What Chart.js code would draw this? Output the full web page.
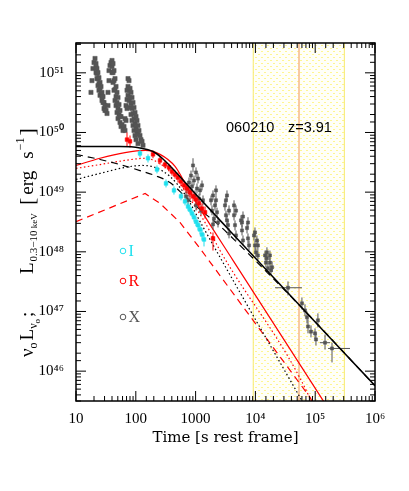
<!DOCTYPE html>
<html>
<head>
<meta charset="utf-8">
<script src="https://cdn.jsdelivr.net/npm/chart.js@4.4.1/dist/chart.umd.min.js"></script>
<style>
  html, body { margin: 0; padding: 0; background: #fff; }
</style>
</head>
<body>
<canvas id="lightCurve" width="409" height="491"></canvas>
<script>
// axis ranges and tick labels
const xRange = [10, 1e6];
const yRange = [3.16e45, 3.16e51];
const xTickValues = [10, 100, 1000, 1e4, 1e5, 1e6];
const xTickLabels = ['10', '100', '1000', '10⁴', '10⁵', '10⁶'];
const yTickValues = [1e46, 1e47, 1e48, 1e49, 1e50, 1e51];
const yTickLabels = ['10⁴⁶', '10⁴⁷', '10⁴⁸', '10⁴⁹', '10⁵⁰', '10⁵¹'];

// shaded time window and its marker
const bandRange = [9.2e3, 3.07e5];
const bandMark = 5.36e4;

// X-ray prompt flares [t, L]
const xrayFlares = [
  [17.8,4.7e50],[18.5,7.4e50],[19.2,1.18e51],[20.0,1.49e51],[20.8,1.74e51],
  [21.6,1.43e51],[21.6,1.23e51],[21.6,1.01e51],[22.4,1.18e51],[22.4,9.7e50],[22.4,8.0e50],
  [23.3,1.01e51],[23.3,8.0e50],[23.3,6.1e50],[24.2,8.3e50],[24.2,6.6e50],[24.2,5.1e50],
  [25.2,6.9e50],[25.2,5.5e50],[25.2,4.2e50],[26.2,5.9e50],[26.2,4.5e50],
  [27.2,4.7e50],[27.2,4.0e50],[27.2,3.44e50],[28.3,4.0e50],[28.3,3.18e50],
  [29.4,3.18e50],[29.4,2.52e50],[30.5,2.83e50],[30.5,2.34e50],[31.8,2.34e50],[33.0,2.08e50],
  [34.3,2.83e50],[34.3,4.7e50],[35.6,7.4e50],[35.6,1.09e51],[37.0,1.33e51],[38.5,1.49e51],
  [40.0,1.61e51],[40.0,1.28e51],[40.0,1.01e51],[41.6,1.43e51],[41.6,1.01e51],[41.6,6.9e50],
  [43.2,1.09e51],[43.2,7.4e50],[43.2,5.1e50],[44.9,8.0e50],[44.9,5.25e50],[44.9,3.44e50],
  [46.7,5.9e50],[46.7,4.0e50],[46.7,2.83e50],[48.5,4.7e50],[48.5,3.18e50],[48.5,2.16e50],
  [50.4,3.86e50],[50.4,2.52e50],[50.4,1.71e50],[52.4,2.94e50],[52.4,2.0e50],
  [54.4,2.34e50],[54.4,1.85e50],[54.4,1.47e50],[56.6,1.85e50],[56.6,1.26e50],
  [58.8,1.36e50],[61.1,1.08e50],[63.5,1.26e50],
  [66.0,1.71e50],[66.0,1.08e50],[68.6,2.83e50],[68.6,1.59e50],
  [71.3,5.1e50],[71.3,3.57e50],[71.3,2.52e50],[74.1,8.0e50],[74.1,5.9e50],[74.1,4.2e50],
  [77.0,7.4e50],[77.0,5.1e50],[77.0,3.44e50],[80.0,5.5e50],[80.0,3.86e50],[80.0,2.62e50],
  [83.1,4.7e50],[83.1,3.06e50],[83.1,2.0e50],[86.4,3.86e50],[86.4,2.52e50],[86.4,1.59e50],
  [89.8,3.18e50],[89.8,2.08e50],[89.8,1.31e50],[93.3,2.62e50],[93.3,1.71e50],[93.3,1.08e50],
  [97.0,2.16e50],[97.0,1.42e50],[97.0,8.9e49],[100.8,1.85e50],[100.8,1.21e50],[100.8,7.6e49],
  [104.7,1.59e50],[104.7,1.04e50],[108.8,1.31e50],[108.8,9.25e49],[108.8,6.5e49],
  [113,1.08e50],[117.5,8.9e49],[122,7.6e49],[127,7.1e49],[132,6.1e49]
];

// X-ray later data [t, L, Llow, Lhigh]
const xrayPoints = [
  [690,8.5e48,7.0e48,1.03e49],[718,1.15e49,9.5e48,1.4e49],[747,7.3e48,6.0e48,8.8e48],
  [776,1.45e49,1.2e49,1.76e49],[806,9.9e48,8.1e48,1.2e49],[838,1.9e49,1.57e49,2.3e49],
  [871,1.25e49,1.03e49,1.51e49],[905,2.8e49,2.14e49,3.7e49],[940,1.57e49,1.3e49,1.9e49],
  [977,8.8e48,7.3e48,1.07e49],[1016,2.14e49,1.76e49,2.6e49],[1016,6.0e48,4.9e48,7.3e48],
  [1055,1.15e49,9.5e48,1.4e49],[1097,1.69e49,1.4e49,2.06e49],[1140,7.8e48,6.5e48,9.5e48],
  [1185,1.07e49,8.8e48,1.3e49],[1231,4.9e48,4.1e48,6.0e48],[1280,1.3e49,1.07e49,1.57e49],
  [1330,7.3e48,6.0e48,8.8e48],[1810,7.3e48,6.0e48,8.8e48],[1880,4.9e48,4.1e48,6.0e48],
  [1954,8.8e48,7.3e48,1.07e49],[1954,2.88e48,2.37e48,3.5e48],[2030,3.6e48,3.0e48,4.4e48],
  [2110,6.0e48,4.9e48,7.3e48],[2193,1.07e49,8.8e48,1.3e49],[2193,7.3e48,6.0e48,8.8e48],
  [2280,4.6e48,3.8e48,5.5e48],[2370,3.1e48,2.56e48,3.8e48],[3100,6.0e48,4.9e48,7.3e48],
  [3220,4.1e48,3.36e48,4.9e48],[3220,7.3e48,6.0e48,8.8e48],[3350,8.8e48,7.3e48,1.07e49],
  [3350,3.36e48,2.8e48,4.1e48],[3480,2.8e48,2.28e48,3.36e48],[3620,4.9e48,4.1e48,6.0e48],
  [3620,2.03e48,1.68e48,2.5e48],[4390,4.1e48,3.36e48,4.9e48],[4390,6.0e48,4.9e48,7.3e48],
  [4560,2.8e48,2.28e48,3.36e48],[4740,4.9e48,4.1e48,6.0e48],[4740,1.88e48,1.55e48,2.28e48],
  [5740,3.36e48,2.8e48,4.1e48],[5970,2.28e48,1.88e48,2.8e48],[5970,3.1e48,2.56e48,3.8e48],
  [6200,1.55e48,1.28e48,1.88e48],[6200,3.9e48,3.2e48,4.75e48],[7240,2.5e48,2.03e48,3.0e48],
  [7520,1.68e48,1.38e48,2.03e48],[7520,3.1e48,2.56e48,3.8e48],[7820,1.28e48,1.05e48,1.55e48],
  [9480,1.88e48,1.55e48,2.28e48],[9840,1.28e48,1.05e48,1.55e48],[9840,2.11e48,1.74e48,2.56e48],
  [1.02e4,9.8e47,8.1e47,1.19e48],[1.06e4,1.55e48,1.28e48,1.88e48],[1.10e4,8.7e47,7.2e47,1.05e48],
  [1.10e4,1.28e48,1.05e48,1.55e48],[1.45e4,8.7e47,7.2e47,1.05e48],[1.50e4,6.6e47,5.5e47,8.1e47],
  [1.56e4,7.8e47,6.4e47,9.4e47],[1.56e4,9.8e47,8.1e47,1.19e48],[1.62e4,5.3e47,4.35e47,6.4e47],
  [1.75e4,6.6e47,5.5e47,8.1e47],[1.75e4,8.7e47,7.2e47,1.05e48],[1.82e4,4.9e47,4.0e47,5.9e47],
  [1.90e4,5.5e47,4.6e47,6.9e47],
  [6.0e4,1.37e47,1.08e47,1.72e47],[6.75e4,1.04e47,8.3e46,1.32e47],[7.29e4,8.0e46,6.3e46,1.0e47],
  [7.58e4,5.6e46,4.3e46,7.4e46],[8.5e4,4.6e46,3.68e46,5.85e46],[9.93e4,4.3e46,3.5e46,5.2e46],
  [1.03e5,3.4e46,2.7e46,4.3e46],[1.11e5,7.1e46,5.4e46,9.3e46]
];

// X-ray wide bins [t, L, Llow, Lhigh, tlow, thigh]
const xrayWide = [
  [3.51e4,2.5e47,1.86e47,3.19e47,2.13e4,6.0e4],
  [1.46e5,3.0e46,2.3e46,4.1e46,1.2e5,1.77e5],
  [1.91e5,2.4e46,1.4e46,3.0e46,1.64e5,3.82e5]
];

// R band [t, L, Llow, Lhigh]
const rPoints = [
  [71.3,7.6e49,5.8e49,1.0e50],[80.0,7.1e49,5.6e49,8.9e49],[194,4.3e49,3.7e49,5.0e49],
  [254,3.4e49,2.9e49,3.96e49],[308,2.9e49,2.5e49,3.4e49],[359,2.6e49,2.22e49,3.0e49],
  [403,2.22e49,1.9e49,2.6e49],[453,1.98e49,1.69e49,2.3e49],[508,1.76e49,1.45e49,2.14e49],
  [570,1.51e49,1.25e49,1.83e49],[640,1.3e49,1.07e49,1.57e49],[718,1.15e49,9.5e48,1.4e49],
  [806,9.9e48,8.1e48,1.2e49],[905,8.5e48,7.0e48,1.03e49],[1016,7.55e48,6.2e48,9.1e48],
  [1140,6.5e48,5.3e48,7.8e48],[1280,5.3e48,4.4e48,6.5e48],[1437,4.6e48,3.6e48,5.75e48],
  [1954,1.68e48,1.05e48,2.11e48]
];

// I band [t, L, Llow, Lhigh]
const iPoints = [
  [117.5,4.45e49,3.8e49,5.2e49],[160,3.7e49,3.14e49,4.3e49],[226,2.4e49,2.06e49,2.8e49],
  [320,1.4e49,1.2e49,1.63e49],[435,1.07e49,9.1e48,1.25e49],[570,8.5e48,7.3e48,9.9e48],
  [665,7.0e48,6.0e48,8.1e48],[747,5.75e48,4.9e48,6.7e48],[806,5.1e48,4.4e48,6.0e48],
  [871,4.4e48,3.8e48,5.1e48],[940,3.8e48,3.2e48,4.4e48],[1016,3.2e48,2.7e48,3.9e48],
  [1097,2.8e48,2.28e48,3.36e48],[1185,2.37e48,1.95e48,2.88e48],[1280,1.95e48,1.55e48,2.5e48],
  [1382,1.61e48,1.23e48,2.03e48]
];

// model curves [t, L]
const xModelTotal = [[10,5.8e49],[54.4,5.8e49],[117.5,5.5e49],[194,4.8e49],[285,3.6e49],[489,2.06e49],[1055,8.8e48],[3760,2.24e48],[1e6,5.7e45]];
const xModelDashed = [[10,4.3e49],[25.2,3.53e49],[54.4,2.9e49],[117.5,2.3e49],[209,1.9e49],[373,1.45e49],[665,8.5e48],[1185,5.1e48],[2560,2.7e48],[5530,1.28e48],[1.19e4,6.0e47],[5.57e4,1.24e47],[1e6,5.7e45]];
const xModelDotted = [[10,1.63e49],[25.2,2.06e49],[66,2.6e49],[127,2.8e49],[209,2.6e49],[373,1.83e49],[665,9.1e48],[1280,2.8e48],[2560,8.1e47],[5.57e4,3.64e45],[6.5e4,2.78e45]];
const rModelTotal = [[10,2.8e49],[25.2,3.7e49],[66,4.6e49],[143,5.0e49],[254,4.3e49],[453,2.7e49],[747,1.15e49],[1185,5.3e48],[4220,7.2e47],[1.35e5,3.24e45],[1.52e5,2.7e45]];
const rModelDotted = [[10,2.5e49],[25.2,2.9e49],[66,3.4e49],[143,3.7e49],[254,3.0e49],[453,1.83e49],[806,7.8e48],[1437,3.1e48],[2560,1.05e48],[8.19e4,3.5e45],[8.8e4,2.9e45]];
const rModelDashed = [[10,3.2e48],[143,9.5e48],[254,6.5e48],[548,3.1e48],[1185,1.14e48],[2560,4.0e47],[8.19e4,3.64e45],[9.19e4,2.9e45]];

const GRAY = '#555555';
const RED = '#ff0000';
const CYAN = '#1ee0ee';

const toXY = rows => rows.map(r => ({ x: r[0], y: r[1] }));

function lineSet(rows, color, dash, width, mode) {
    return {
        data: toXY(rows),
        showLine: true,
        borderColor: color,
        borderWidth: width,
        borderDash: dash,
        pointRadius: 0,
        cubicInterpolationMode: mode,
        tension: 0,
        fill: false,
        clip: 0
    };
}

function pointSet(rows, color, radius) {
    return {
        data: toXY(rows),
        showLine: false,
        pointStyle: 'rect',
        pointRadius: radius,
        pointBackgroundColor: color,
        pointBorderColor: color,
        pointBorderWidth: 0.5,
        errColor: color,
        errLo: rows.map(r => r[2]),
        errHi: rows.map(r => r[3]),
        tLo: rows.map(r => r[4]),
        tHi: rows.map(r => r[5]),
        clip: 0
    };
}

function tickLabel(value, values, labels) {
    const i = values.findIndex(v => Math.abs(Math.log10(value) - Math.log10(v)) < 1e-6);
    return i < 0 ? '' : labels[i];
}

function isDecade(value) {
    const e = Math.log10(value);
    return Math.abs(e - Math.round(e)) < 1e-6;
}

// pale dotted window behind the data
const bandPlugin = {
    id: 'band',
    beforeDatasetsDraw(chart) {
        const { ctx, chartArea: a, scales: { x } } = chart;
        const tile = document.createElement('canvas');
        tile.width = 6;
        tile.height = 6;
        const g = tile.getContext('2d');
        g.fillStyle = '#fffff8';
        g.fillRect(0, 0, 6, 6);
        g.fillStyle = 'rgba(255,236,60,0.55)';
        g.fillRect(0, 0, 2, 1);
        g.fillRect(3, 3, 2, 1);
        const x0 = x.getPixelForValue(bandRange[0]);
        const x1 = x.getPixelForValue(bandRange[1]);
        const xm = x.getPixelForValue(bandMark);
        ctx.save();
        ctx.fillStyle = ctx.createPattern(tile, 'repeat');
        ctx.fillRect(x0, a.top, x1 - x0, a.bottom - a.top);
        ctx.strokeStyle = '#f7ea6a';
        ctx.lineWidth = 1;
        ctx.beginPath();
        ctx.moveTo(x0, a.top); ctx.lineTo(x0, a.bottom);
        ctx.moveTo(x1, a.top); ctx.lineTo(x1, a.bottom);
        ctx.stroke();
        ctx.strokeStyle = '#f6b889';
        ctx.lineWidth = 1.5;
        ctx.beginPath();
        ctx.moveTo(xm, a.top); ctx.lineTo(xm, a.bottom);
        ctx.stroke();
        ctx.restore();
    }
};

// error bars for the point datasets
const errorBarPlugin = {
    id: 'errorBars',
    afterDatasetDraw(chart, args) {
        const ds = chart.data.datasets[args.index];
        if (!ds.errLo) return;
        const { ctx, chartArea: a, scales: { x, y } } = chart;
        ctx.save();
        ctx.beginPath();
        ctx.rect(a.left, a.top, a.right - a.left, a.bottom - a.top);
        ctx.clip();
        ctx.strokeStyle = ds.errColor;
        ctx.lineWidth = 1;
        ctx.beginPath();
        ds.data.forEach((p, i) => {
            const px = x.getPixelForValue(p.x);
            const py = y.getPixelForValue(p.y);
            ctx.moveTo(px, y.getPixelForValue(ds.errLo[i]));
            ctx.lineTo(px, y.getPixelForValue(ds.errHi[i]));
            if (ds.tLo[i]) {
                ctx.moveTo(x.getPixelForValue(ds.tLo[i]), py);
                ctx.lineTo(x.getPixelForValue(ds.tHi[i]), py);
            }
        });
        ctx.stroke();
        ctx.restore();
    }
};

// rotated y title with sub- and superscripts
function drawYTitle(ctx) {
    ctx.save();
    ctx.translate(33, 0);
    ctx.rotate(-Math.PI / 2);
    ctx.fillStyle = '#000';
    ctx.textBaseline = 'alphabetic';
    const groups = [
        [357, [['ν', 19, 0, 0], ['o', 12, 4, 0], ['L', 19, 0, 2], ['ν', 12, 4, 0], ['o', 9, 7, 0], [';', 19, 0, 2]]],
        [274, [['L', 19, 0, 0], ['0.3−10', 11, 4, 1], [' keV', 9, 4, 0]]],
        [205, [['[', 22, 1, 0], ['erg', 19, 0, 3], ['s', 19, 0, 12], ['−1', 12, -9, 1], [']', 22, 1, 2]]]
    ];
    groups.forEach(([start, parts]) => {
        let pos = -start;
        parts.forEach(([text, size, shift, gap]) => {
            pos += gap;
            ctx.font = size + "px 'Liberation Serif'";
            ctx.fillText(text, pos, shift);
            pos += ctx.measureText(text).width;
        });
    });
    ctx.restore();
}

// frame, inward ticks and the free text
const framePlugin = {
    id: 'frame',
    afterDraw(chart) {
        const { ctx, chartArea: a, scales: { x, y } } = chart;
        ctx.save();
        ctx.strokeStyle = '#000';
        ctx.lineWidth = 1;
        ctx.beginPath();
        x.ticks.forEach(t => {
            const p = x.getPixelForValue(t.value);
            if (p < a.left - 0.5 || p > a.right + 0.5) return;
            const len = isDecade(t.value) ? 10 : 5;
            ctx.moveTo(p, a.bottom); ctx.lineTo(p, a.bottom - len);
            ctx.moveTo(p, a.top); ctx.lineTo(p, a.top + len);
        });
        y.ticks.forEach(t => {
            const p = y.getPixelForValue(t.value);
            if (p < a.top - 0.5 || p > a.bottom + 0.5) return;
            const len = isDecade(t.value) ? 10 : 5;
            ctx.moveTo(a.left, p); ctx.lineTo(a.left + len, p);
            ctx.moveTo(a.right, p); ctx.lineTo(a.right - len, p);
        });
        ctx.stroke();
        ctx.lineWidth = 1.5;
        ctx.strokeRect(a.left, a.top, a.right - a.left, a.bottom - a.top);

        // burst name and redshift
        ctx.fillStyle = '#000';
        ctx.textBaseline = 'middle';
        ctx.font = "14.5px 'Liberation Sans'";
        ctx.fillText('060210', 226, 128);
        ctx.fillText('z=3.91', 288, 128);

        // band legend
        [['I', CYAN, 251], ['R', RED, 281], ['X', GRAY, 317]].forEach(([name, color, ly]) => {
            ctx.strokeStyle = color;
            ctx.fillStyle = color;
            ctx.lineWidth = 1;
            ctx.beginPath();
            ctx.arc(123, ly, 2.8, 0, Math.PI * 2);
            ctx.stroke();
            ctx.font = "16px 'Liberation Serif'";
            ctx.fillText(name, 128.5, ly + 1);
        });

        drawYTitle(ctx);
        ctx.restore();
    }
};

const tickFont = { family: 'Liberation Serif', size: 15 };

new Chart(document.getElementById('lightCurve'), {
    type: 'scatter',
    data: {
        datasets: [
            lineSet(xModelTotal, '#000', [], 1.5, 'monotone'),
            pointSet(rPoints, RED, 2.6),
            pointSet(iPoints, CYAN, 2.6),
            pointSet(xrayWide, GRAY, 2.2),
            pointSet(xrayPoints, GRAY, 2.2),
            { data: toXY(xrayFlares), showLine: false, pointStyle: 'rect', pointRadius: 3,
              pointBackgroundColor: GRAY, pointBorderColor: GRAY, pointBorderWidth: 0.5, clip: 0 },
            lineSet(xModelDashed, '#000', [7, 5], 1.2, 'monotone'),
            lineSet(xModelDotted, '#000', [1.5, 2.5], 1.2, 'monotone'),
            lineSet(rModelTotal, RED, [], 1.2, 'monotone'),
            lineSet(rModelDotted, RED, [1.5, 2.5], 1.2, 'monotone'),
            lineSet(rModelDashed, RED, [7, 5], 1.2, 'default')
        ]
    },
    options: {
        responsive: false,
        animation: false,
        devicePixelRatio: 1,
        events: [],
        layout: { padding: { top: 43, right: 34, left: 0, bottom: 0 } },
        plugins: {
            legend: { display: false },
            tooltip: { enabled: false }
        },
        scales: {
            x: {
                type: 'logarithmic',
                position: 'bottom',
                min: xRange[0],
                max: xRange[1],
                grid: { display: false, drawTicks: false },
                border: { display: false },
                ticks: {
                    autoSkip: false,
                    maxRotation: 0,
                    padding: 9,
                    color: '#000',
                    font: tickFont,
                    callback: v => tickLabel(v, xTickValues, xTickLabels)
                },
                title: {
                    display: true,
                    text: 'Time [s rest frame]',
                    color: '#000',
                    font: { family: 'DejaVu Serif', size: 15 },
                    padding: { top: 0, bottom: 44 }
                },
                afterFit: s => { s.height = 90; }
            },
            y: {
                type: 'logarithmic',
                min: yRange[0],
                max: yRange[1],
                grid: { display: false, drawTicks: false },
                border: { display: false },
                ticks: {
                    autoSkip: false,
                    padding: 12,
                    color: '#000',
                    font: tickFont,
                    callback: v => tickLabel(v, yTickValues, yTickLabels)
                },
                afterFit: s => { s.width = 76; }
            }
        }
    },
    plugins: [bandPlugin, errorBarPlugin, framePlugin]
});
</script>
</body>
</html>
